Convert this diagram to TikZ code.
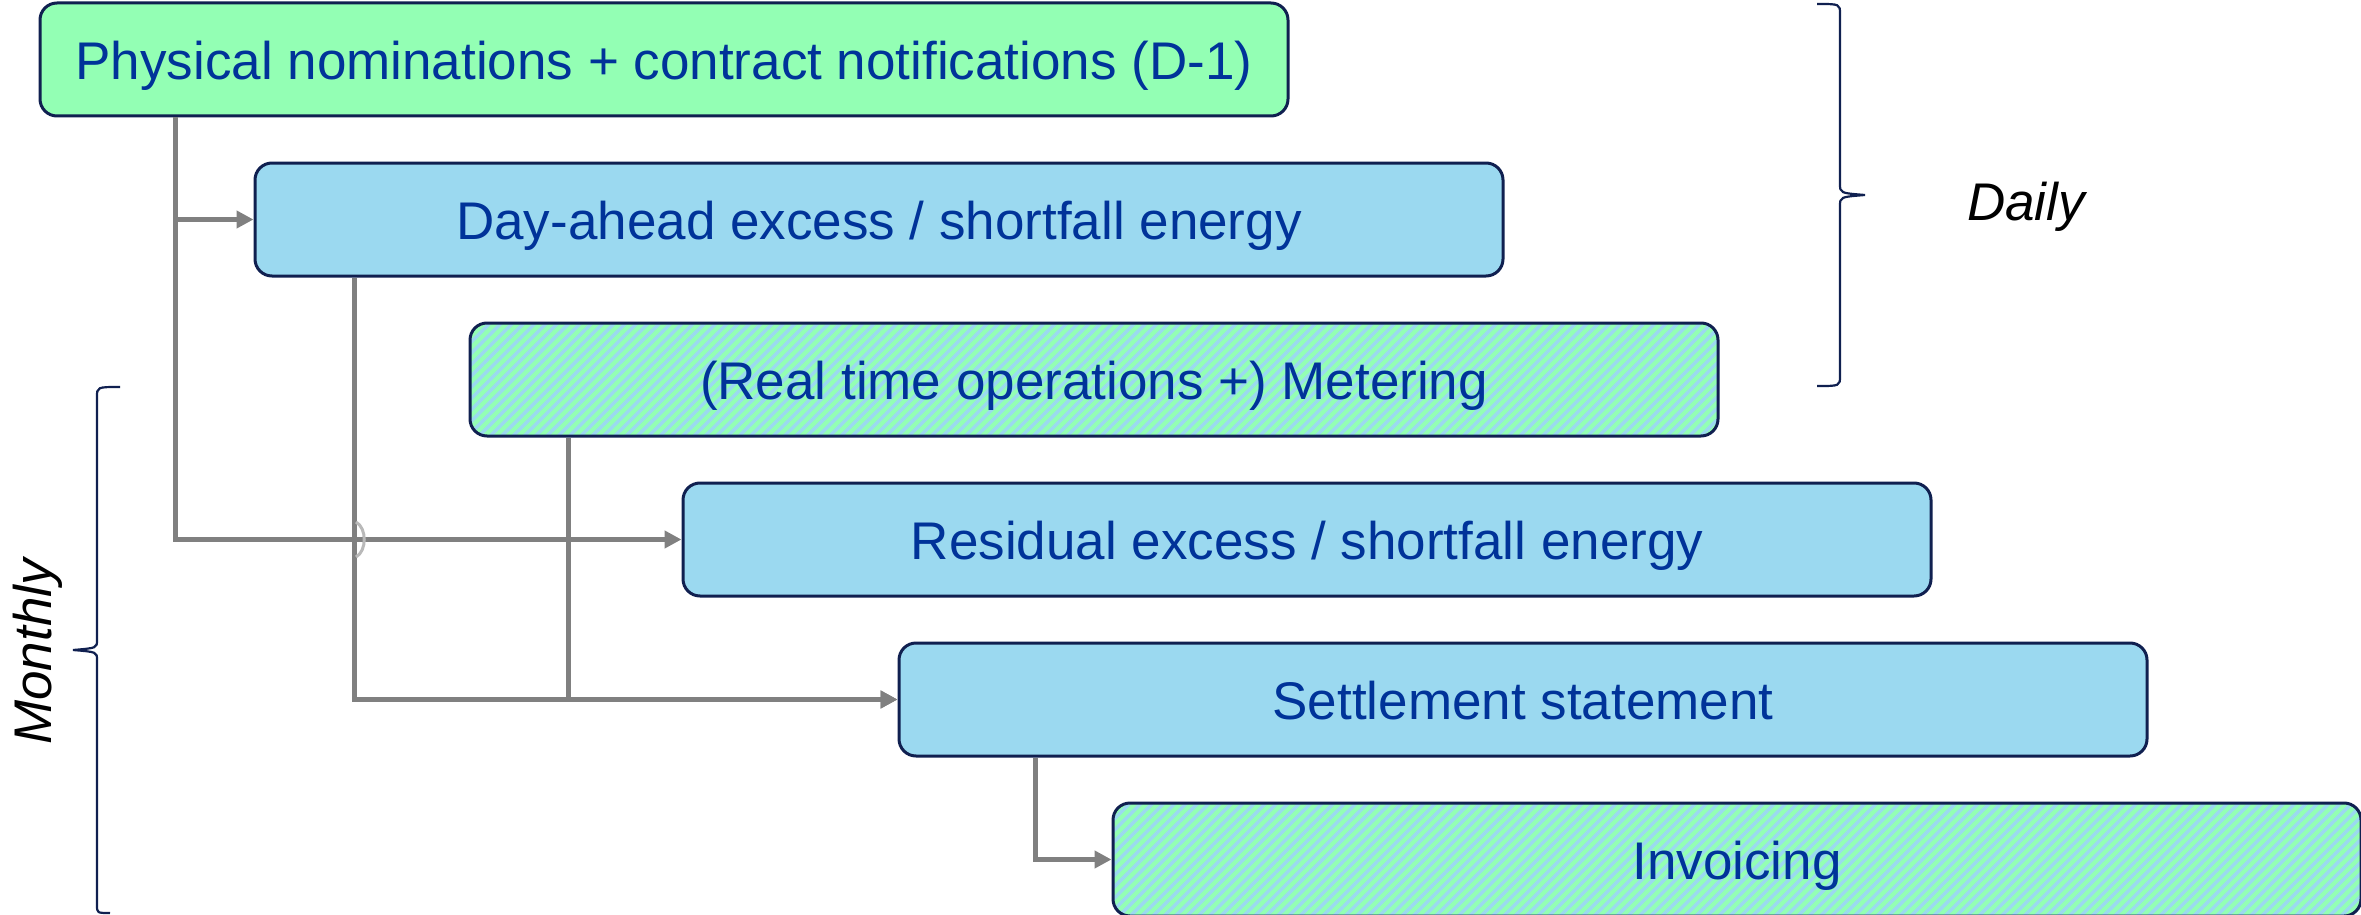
\documentclass[tikz,border=0pt]{standalone}
\usepackage{fontspec}
\setmainfont{Liberation Sans}
\usetikzlibrary{arrows.meta,patterns.meta}
\definecolor{boxgreen}{RGB}{147,255,180}
\definecolor{boxblue}{RGB}{155,217,240}
\definecolor{textblue}{RGB}{0,51,153}
\definecolor{navy}{RGB}{16,32,80}
\definecolor{conngray}{RGB}{128,128,128}
\tikzset{
  box/.style={draw=navy, line width=3pt, rounded corners=17pt, minimum width=1248pt,
    minimum height=113pt, inner sep=0pt, text=textblue, text height=40pt, text depth=0pt,
    font=\fontsize{53}{60}\selectfont},
  greenbox/.style={box, fill=boxgreen},
  bluebox/.style={box, fill=boxblue},
  hatchbox/.style={box, preaction={fill=boxgreen},
    pattern={Lines[angle=45,distance=8pt,line width=3.4pt]}, pattern color=boxblue},
  conn/.style={draw=conngray, line width=5.5pt, -{Triangle[length=17pt,width=17pt]}},
  brace/.style={draw=navy, line width=2.2pt},
  period/.style={font=\fontsize{53}{60}\selectfont\itshape, text=black, inner sep=0pt}
}
\begin{document}
\begin{tikzpicture}[x=1pt,y=-1pt]
\useasboundingbox (0,0) rectangle (2361,915);
\node[greenbox] (b1) at (664,59.5) {Physical nominations + contract notifications (D-1)};
\node[bluebox]  (b2) at (879,219.5) {Day-ahead excess / shortfall energy};
\node[hatchbox] (b3) at (1094,379.5) {(Real time operations +) Metering};
\node[bluebox]  (b4) at (1307,539.5) {Residual excess / shortfall energy};
\node[bluebox]  (b5) at (1523,699.5) {Settlement statement};
\node[hatchbox] (b6) at (1737,859.5) {Invoicing};
% connectors
\draw[conn] ([xshift=137pt]b1.south west) |- (b2.west);
\draw[conn] ([xshift=137pt]b1.south west) |- (b4.west);
\draw[conn] ([xshift=101pt]b2.south west) |- (b5.west);
\draw[conn] ([xshift=100pt]b3.south west) |- (b5.west);
\draw[conn] ([xshift=138pt]b5.south west) |- (b6.west);
% line jump
\coordinate (jA) at (356,522);
\coordinate (jB) at (356,557);
\draw[gray!55, line width=3pt] (jA) .. controls (367,528) and (367,551) .. (jB);
% Daily brace
\draw[brace] (1817,4) .. controls (1840,4) .. (1840,14) -- (1840,184)
  .. controls (1840,193) .. (1865,195) .. controls (1840,197) .. (1840,206)
  -- (1840,376) .. controls (1840,386) .. (1817,386);
\node[period, anchor=base] (daily) at (2026,220) {Daily};
% Monthly brace
\draw[brace] (120,387) .. controls (97,387) .. (97,397) -- (97,640)
  .. controls (97,648) .. (73,650) .. controls (97,652) .. (97,660)
  -- (97,905) .. controls (97,913) .. (110,913);
\node[period, anchor=base, rotate=90] (monthly) at (51,652) {Monthly};
\end{tikzpicture}
\end{document}
